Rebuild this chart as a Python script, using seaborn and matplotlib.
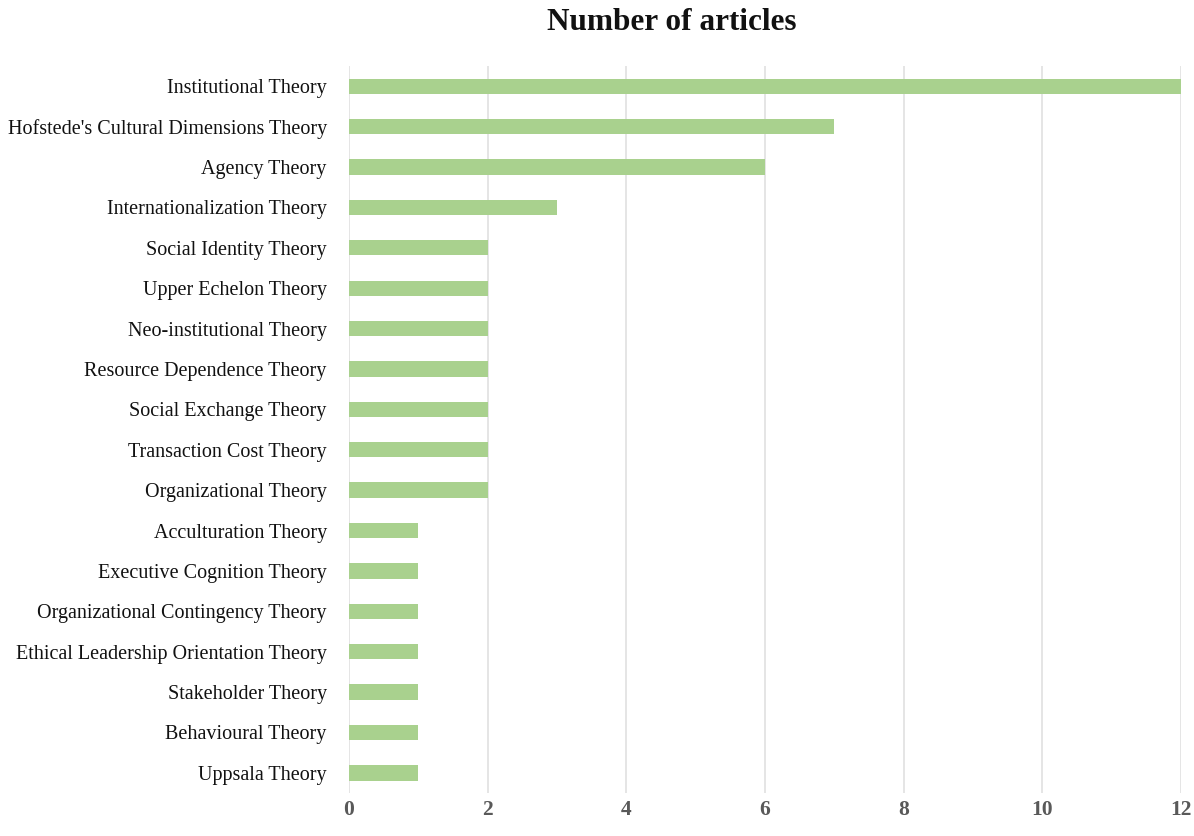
import matplotlib
matplotlib.use("Agg")
import matplotlib.pyplot as plt
import seaborn as sns
import pandas as pd

theories = [
    "Institutional Theory",
    "Hofstede's Cultural Dimensions Theory",
    "Agency Theory",
    "Internationalization Theory",
    "Social Identity Theory",
    "Upper Echelon Theory",
    "Neo-institutional Theory",
    "Resource Dependence Theory",
    "Social Exchange Theory",
    "Transaction Cost Theory",
    "Organizational Theory",
    "Acculturation Theory",
    "Executive Cognition Theory",
    "Organizational Contingency Theory",
    "Ethical Leadership Orientation Theory",
    "Stakeholder Theory",
    "Behavioural Theory",
    "Uppsala Theory",
]
articles = [12, 7, 6, 3, 2, 2, 2, 2, 2, 2, 2, 1, 1, 1, 1, 1, 1, 1]
x_ticks = [0, 2, 4, 6, 8, 10, 12]

df = pd.DataFrame({"theory": theories, "articles": articles})

sns.set_theme(style="white")
plt.rcParams["font.family"] = ["Liberation Serif", "DejaVu Serif"]

fig = plt.figure(figsize=(11.94, 8.36), dpi=100)
ax = fig.add_axes([0.2923, 0.0514, 0.6968, 0.8696])

sns.barplot(data=df, x="articles", y="theory", orient="h", color="#a9d18e",
            saturation=1, width=0.38, linewidth=0, ax=ax, zorder=3)

ax.set_xlim(0, 12)
ax.set_ylim(17.5, -0.5)
ax.set_xticks(x_ticks)
ax.set_xticklabels([str(t) for t in x_ticks], fontsize=15.5, fontweight="bold",
                   color="#595959")
ax.tick_params(axis="x", length=0, pad=5)
ax.tick_params(axis="y", length=0, pad=16, labelsize=14.5, labelcolor="#111111")
ax.grid(axis="x", color="#dedede", linewidth=1.1, zorder=0)
ax.set_axisbelow(True)
ax.set_xlabel("")
ax.set_ylabel("")
for s in ax.spines.values():
    s.set_visible(False)

fig.suptitle("Number of articles", x=0.563, y=0.99, fontsize=22.5,
             fontweight="bold", color="#111111")

fig.savefig("out.png", dpi=100, facecolor="white")
